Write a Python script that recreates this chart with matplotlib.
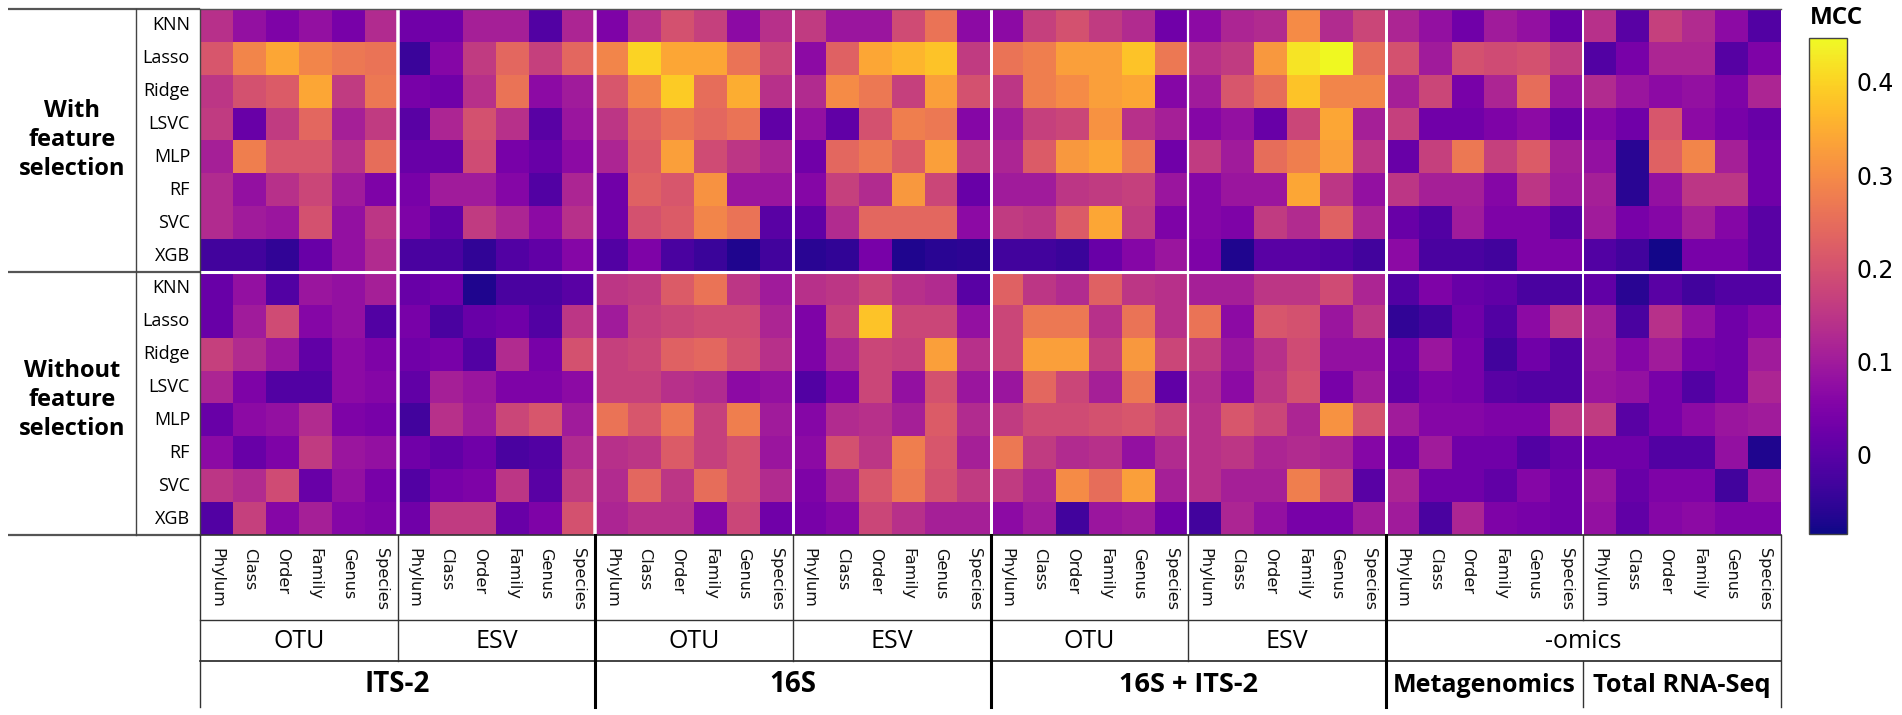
import numpy as np
import matplotlib
matplotlib.use('Agg')
from matplotlib import pyplot as plt

W, H = 1902, 715
VMIN, VMAX = -0.085, 0.447

MODELS = ['KNN', 'Lasso', 'Ridge', 'LSVC', 'MLP', 'RF', 'SVC', 'XGB']
LEVELS = ['Phylum', 'Class', 'Order', 'Family', 'Genus', 'Species']

# one list per row, 48 columns : ITS OTU/ESV, 16S OTU/ESV, both OTU/ESV, metagenomics, total rna
with_fs = [
    [.14,.08,.05,.08,.04,.13, .03,.03,.11,.11,-.01,.12, .05,.14,.20,.17,.07,.14, .16,.09,.09,.19,.26,.07, .07,.17,.20,.16,.13,.03, .07,.12,.13,.30,.13,.18, .12,.08,.03,.10,.08,.02, .14,.00,.17,.13,.07,-.01],
    [.21,.29,.34,.29,.27,.26, -.04,.06,.16,.24,.17,.24, .29,.40,.34,.34,.26,.18, .07,.23,.34,.36,.38,.16, .26,.28,.33,.33,.38,.27, .14,.16,.32,.42,.447,.25, .20,.10,.20,.19,.20,.16, -.01,.04,.12,.12,-.005,.05],
    [.15,.20,.22,.34,.16,.27, .04,.03,.14,.26,.07,.10, .21,.29,.39,.25,.35,.14, .13,.30,.27,.17,.33,.20, .15,.28,.30,.33,.34,.06, .10,.21,.25,.38,.29,.29, .11,.18,.04,.12,.25,.09, .13,.09,.07,.08,.05,.12],
    [.16,.02,.16,.24,.11,.16, .00,.12,.20,.14,.00,.09, .15,.23,.26,.24,.26,.01, .08,.01,.20,.28,.27,.06, .10,.17,.18,.31,.14,.11, .06,.08,.02,.18,.34,.11, .17,.03,.03,.05,.07,.02, .06,.03,.21,.07,.04,.02],
    [.11,.28,.21,.21,.14,.25, .02,.02,.19,.04,.02,.07, .12,.22,.33,.19,.15,.12, .03,.24,.27,.22,.33,.16, .12,.22,.32,.34,.27,.03, .16,.10,.25,.28,.33,.15, .02,.17,.27,.17,.22,.11, .08,-.06,.23,.29,.11,.03],
    [.13,.08,.14,.18,.10,.05, .04,.10,.10,.06,-.01,.12, .03,.23,.21,.31,.09,.09, .06,.17,.13,.32,.18,.02, .10,.10,.15,.16,.17,.09, .06,.09,.09,.34,.15,.08, .15,.11,.11,.06,.15,.10, .11,-.06,.08,.15,.15,.03],
    [.13,.10,.09,.20,.08,.15, .05,.01,.16,.12,.07,.14, .03,.20,.22,.29,.26,.00, .01,.13,.24,.24,.24,.07, .16,.15,.22,.34,.16,.05, .06,.05,.16,.13,.23,.12, .02,-.01,.10,.05,.05,.00, .10,.04,.06,.11,.06,.00],
    [-.03,-.03,-.05,.02,.08,.13, -.02,-.02,-.05,-.01,.01,.06, -.01,.05,-.02,-.04,-.07,-.03, -.06,-.05,.04,-.07,-.06,-.055, -.03,-.03,-.04,.02,.06,.09, .05,-.07,.00,.00,-.01,-.03, .07,-.02,-.02,-.03,.05,.05, -.01,-.03,-.08,.04,.04,.00],
]
without_fs = [
    [.02,.08,-.01,.09,.08,.11, .02,.03,-.07,-.02,-.02,.00, .15,.16,.22,.26,.15,.10, .14,.15,.18,.14,.13,.00, .23,.15,.13,.23,.15,.14, .11,.11,.15,.15,.19,.12, -.01,.05,.02,.01,-.02,-.02, .01,-.06,.00,-.03,-.01,-.01],
    [.02,.10,.19,.06,.08,-.01, .04,-.02,.02,.03,-.01,.15, .10,.17,.18,.19,.19,.12, .05,.17,.38,.18,.18,.08, .18,.27,.27,.14,.26,.14, .26,.07,.21,.20,.09,.15, -.05,-.03,.03,-.01,.07,.15, .11,-.02,.14,.08,.03,.06],
    [.17,.13,.09,.01,.07,.05, .03,.04,-.01,.13,.04,.20, .17,.18,.23,.24,.20,.14, .05,.12,.18,.17,.33,.14, .18,.33,.33,.17,.32,.18, .16,.09,.14,.19,.08,.08, .02,.09,.04,-.03,.03,-.01, .10,.06,.10,.04,.03,.10],
    [.12,.05,-.01,-.01,.07,.06, .01,.11,.09,.05,.05,.07, .17,.17,.14,.13,.07,.08, -.01,.05,.18,.08,.20,.09, .09,.24,.18,.11,.27,.01, .13,.07,.15,.20,.04,.10, .01,.05,.04,.00,-.01,-.01, .09,.08,.04,-.01,.03,.12],
    [.02,.07,.08,.13,.05,.04, -.03,.14,.10,.18,.21,.10, .26,.21,.27,.17,.28,.10, .06,.13,.14,.11,.22,.13, .16,.19,.19,.20,.21,.18, .14,.21,.18,.12,.31,.20, .10,.06,.06,.05,.05,.15, .16,.00,.04,.07,.09,.10],
    [.07,.02,.05,.16,.09,.08, .03,.01,.03,-.02,-.01,.13, .14,.15,.22,.17,.20,.09, .07,.20,.15,.28,.21,.11, .27,.16,.13,.14,.08,.13, .14,.15,.12,.13,.12,.06, .03,.10,.03,.03,-.01,.02, .03,.03,-.01,-.01,.08,-.07],
    [.15,.13,.19,.02,.08,.04, -.01,.04,.05,.15,.00,.16, .13,.24,.15,.25,.20,.13, .05,.11,.21,.27,.20,.16, .16,.12,.30,.25,.33,.11, .14,.11,.11,.28,.18,.00, .12,.03,.03,.01,.06,.03, .09,.02,.05,.05,-.03,.08],
    [-.01,.17,.06,.11,.06,.05, .03,.16,.16,.02,.05,.20, .12,.14,.14,.06,.18,.03, .04,.06,.18,.14,.11,.11, .07,.10,-.03,.09,.10,.03, -.03,.12,.08,.04,.04,.10, .10,-.02,.12,.05,.04,.03, .08,.01,.06,.07,.05,.05],
]

plt.rcParams['font.family'] = ['Open Sans', 'DejaVu Sans']

def box(x0, y0, x1, y1):
    # pixel box (top-left origin) to figure fractions
    return [x0/W, 1-y1/H, (x1-x0)/W, (y1-y0)/H]

fig = plt.figure(figsize=(W/100, H/100), dpi=100)

# overlay in pixel coords for the table rules and text
bg = fig.add_axes([0, 0, 1, 1], zorder=3)
bg.set_xlim(0, W)
bg.set_ylim(H, 0)
bg.axis('off')
bg.patch.set_alpha(0)

X0, X1, Y0, Y1 = 200, 1781, 9, 535
COL = (X1-X0)/48.0
ROW = (Y1-Y0)/16.0

ax = fig.add_axes(box(X0, Y0, X1, Y1), zorder=2)
im = ax.imshow(np.array(with_fs+without_fs), cmap='plasma', vmin=VMIN, vmax=VMAX,
               aspect='auto', interpolation='nearest')
ax.set_xticks([])
ax.set_yticks([])
for s in ax.spines.values():
    s.set_visible(False)

# white gaps between the blocks
for i, w in zip([6, 12, 18, 24, 30, 36, 42], [3.5, 3.5, 3, 3, 2.2, 3, 2]):
    ax.axvline(i-0.5, color='white', lw=w*0.72)
ax.axhline(7.5, color='white', lw=2.2)

cax = fig.add_axes(box(1809, 38, 1847, 534), zorder=2)
cb = fig.colorbar(im, cax=cax, ticks=[0, 0.1, 0.2, 0.3, 0.4])
cb.ax.set_yticklabels(['0', '0.1', '0.2', '0.3', '0.4'], fontsize=17, family='DejaVu Sans')
cb.ax.tick_params(length=0, pad=7)
cb.outline.set_linewidth(1)
cb.outline.set_edgecolor('#444444')
bg.text(1836, 18, 'MCC', fontsize=17.5, fontweight='bold', ha='center', va='center')

# rules left of the heatmap
for y, lw in [(Y0, 1.6), (272, 1.6), (Y1, 1.6)]:
    bg.plot([8, X0], [y, y], color='#555555', lw=lw, solid_capstyle='butt')
bg.plot([X0, X1], [Y1, Y1], color='#333333', lw=1.2)
bg.plot([X0, X1], [Y0, Y0], color='#555555', lw=1)
bg.plot([135.5, 135.5], [Y0, Y1], color='#444444', lw=1)
bg.plot([X0, X0], [Y0, Y1], color='#444444', lw=1)

for block, rows in enumerate([with_fs, without_fs]):
    for i, m in enumerate(MODELS):
        bg.text(190, Y0+ROW*(block*8+i+0.5), m, fontsize=13, ha='right', va='center')

bg.text(72, 140, 'With\nfeature\nselection', fontsize=17, fontweight='bold', ha='center', va='center', linespacing=1.28)
bg.text(72, 400, 'Without\nfeature\nselection', fontsize=17, fontweight='bold', ha='center', va='center', linespacing=1.28)

# column labels and the header table under them
for c in range(48):
    bg.text(X0+COL*(c+0.5), 548, LEVELS[c % 6], fontsize=11.6, rotation=270, ha='center', va='top',
            color='#111111', family='DejaVu Sans')

Y_A, Y_B, Y_C = 620, 661, 707
bg.plot([X0, X1], [Y_A, Y_A], color='#333333', lw=1)
bg.plot([X0, X1], [Y_B, Y_B], color='#222222', lw=1.2)

edge = [X0+COL*i for i in range(0, 49, 6)]
for i, x in enumerate(edge):
    if i in (0, 8):
        bg.plot([x, x], [Y1, Y_C], color='#333333', lw=1)
    elif i in (2, 4, 6):
        bg.plot([x, x], [Y1, Y_C], color='black', lw=2.2)
    elif i in (1, 3, 5):
        bg.plot([x, x], [Y1, Y_B], color='#333333', lw=1)
    else:
        # no divider across the -omics cell
        bg.plot([x, x], [Y1, Y_A], color='#333333', lw=1)
        bg.plot([x, x], [Y_B, Y_C], color='#333333', lw=1)

for a, b, s in [(0, 1, 'OTU'), (1, 2, 'ESV'), (2, 3, 'OTU'), (3, 4, 'ESV'), (4, 5, 'OTU'), (5, 6, 'ESV'), (6, 8, '-omics')]:
    bg.text((edge[a]+edge[b])/2, 641, s, fontsize=18, ha='center', va='center')
for a, b, s, fs in [(0, 2, 'ITS-2', 20), (2, 4, '16S', 20), (4, 6, '16S + ITS-2', 19.5), (6, 7, 'Metagenomics', 18), (7, 8, 'Total RNA-Seq', 18.3)]:
    bg.text((edge[a]+edge[b])/2, 685, s, fontsize=fs, fontweight='bold', ha='center', va='center')

fig.savefig('out.png', dpi=100)
